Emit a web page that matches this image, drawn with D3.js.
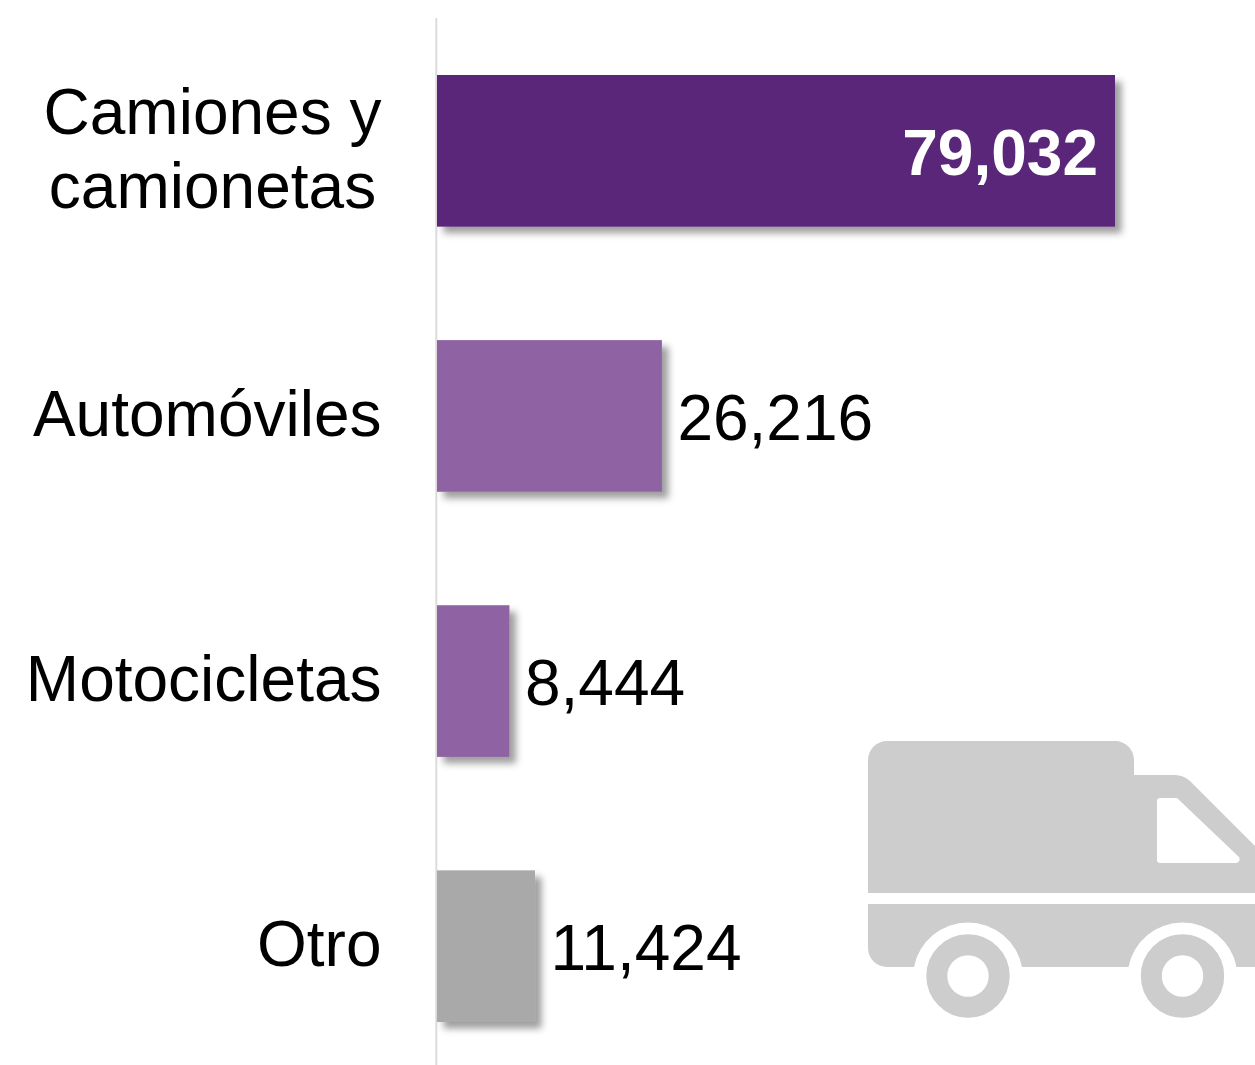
<!DOCTYPE html>
<html>
  <head>
    <meta charset="utf-8" />
    <title>Vehiculos</title>
    <script src="https://d3js.org/d3.v7.min.js"></script>
    <style>
      body { margin: 0; background: #fff; overflow: hidden; }
      text { font-family: "Liberation Sans", Arial, sans-serif; font-size: 64px; fill: #000; }
    </style>
  </head>
  <body>
    <svg width="1255" height="1065"></svg>
    <script>
      let categories = ["Camiones y camionetas", "Automóviles", "Motocicletas", "Otro"];
      let categoryLines = [["Camiones y", "camionetas"], ["Automóviles"], ["Motocicletas"], ["Otro"]];
      let values = [79032, 26216, 8444, 11424];
      let valueLabels = ["79,032", "26,216", "8,444", "11,424"];
      let barColors = ["#5a2779", "#8e62a3", "#8e62a3", "#a9a9a9"];

      let width = 1255;
      let height = 1065;
      let svg = d3.select("svg");

      let x = d3.scaleLinear().domain([0, 79032]).range([437, 1115]);
      let y = d3.scaleBand().domain(categories).range([75, 1022]).paddingInner(0.428);

      // bar shadow
      let filter = svg.append("defs").append("filter")
        .attr("id", "shadow")
        .attr("x", "-10%").attr("y", "-10%")
        .attr("width", "130%").attr("height", "130%");
      filter.append("feDropShadow")
        .attr("dx", 6.5).attr("dy", 6.5)
        .attr("stdDeviation", 3.5)
        .attr("flood-color", "#000")
        .attr("flood-opacity", 0.38);

      // truck icon in the lower right corner
      let truck = svg.append("g").attr("fill", "#cdcdcd");
      truck.append("path")
        .attr("fill-rule", "evenodd")
        .attr("d", "M868 893V760A19 19 0 0 1 887 741H1115A19 19 0 0 1 1134 760V775H1175Q1184 775 1191 782L1255 846V893Z" +
          "M1157 801Q1157 798 1160 798H1177L1239 857Q1241 862 1236 863H1160Q1157 863 1157 860Z");
      truck.append("path")
        .attr("d", "M868 904H1255V967H1236.5A55 55 0 0 0 1128.5 967H1022A55 55 0 0 0 914 967H887A19 19 0 0 1 868 948Z");
      let wheelX = [968, 1182.5];
      truck.selectAll("circle")
        .data(wheelX)
        .join("circle")
        .attr("cx", (d) => d)
        .attr("cy", 976)
        .attr("r", 31.2)
        .attr("fill", "none")
        .attr("stroke", "#cdcdcd")
        .attr("stroke-width", 21);

      // axis line
      svg.append("line")
        .attr("x1", 436.3).attr("x2", 436.3)
        .attr("y1", 18).attr("y2", height)
        .attr("stroke", "#dcdcdc")
        .attr("stroke-width", 2);

      // bars
      svg.selectAll(".bar")
        .data(values)
        .join("rect")
        .attr("class", "bar")
        .attr("x", x(0))
        .attr("y", (d, i) => y(categories[i]))
        .attr("width", (d) => x(d) - x(0))
        .attr("height", y.bandwidth())
        .attr("fill", (d, i) => barColors[i])
        .attr("filter", "url(#shadow)");

      // value labels, the largest one sits inside its bar
      svg.selectAll(".value")
        .data(values)
        .join("text")
        .attr("class", "value")
        .attr("x", (d, i) => (i == 0 ? x(d) - 17 : x(d) + 15.5))
        .attr("y", (d, i) => y(categories[i]) + 100)
        .attr("text-anchor", (d, i) => (i == 0 ? "end" : "start"))
        .style("fill", (d, i) => (i == 0 ? "#fff" : "#000"))
        .style("font-weight", (d, i) => (i == 0 ? "bold" : "normal"))
        .text((d, i) => valueLabels[i]);

      // category labels, right aligned block with centred lines
      categoryLines.forEach((lines, i) => {
        let g = svg.append("g");
        if (lines.length == 1) {
          g.append("text")
            .attr("x", 381.5)
            .attr("y", y(categories[i]) + 96)
            .attr("text-anchor", "end")
            .text(lines[0]);
        } else {
          g.selectAll("text")
            .data(lines)
            .join("text")
            .attr("x", 212.5)
            .attr("y", (d, j) => y(categories[i]) + 59 + j * 74)
            .attr("text-anchor", "middle")
            .text((d) => d);
        }
      });
    </script>
  </body>
</html>
